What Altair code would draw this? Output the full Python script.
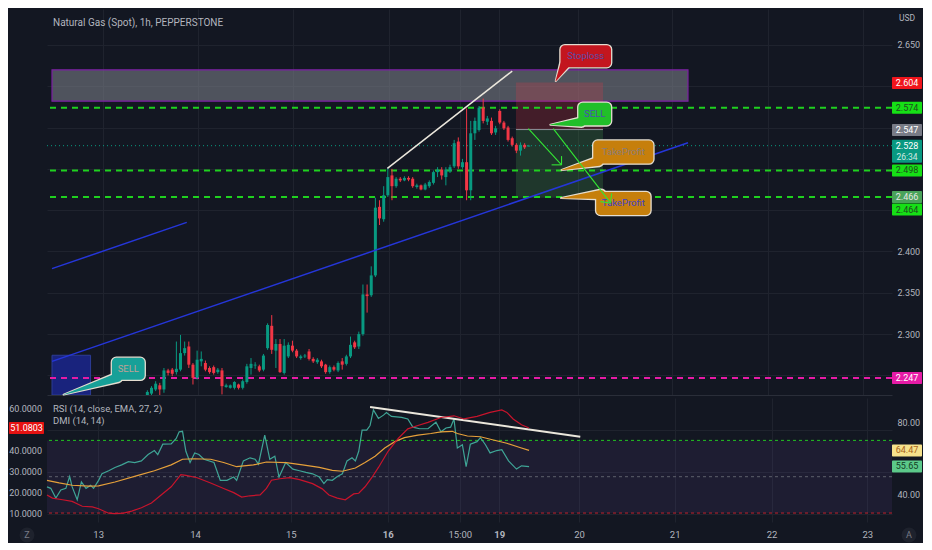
import json
import altair as alt
import pandas as pd

# ---------------- layout ----------------
W, HT, HB = 845, 386, 124
BG = "#131722"
GRID = "#1f232e"
TXT = "#b2b5be"
UP = "#089981"
DOWN = "#f23645"
FONT = "Roboto"

# ---------------- texts ----------------
title_text = "Natural Gas (Spot), 1h, PEPPERSTONE"
currency = "USD"
rsi_title = "RSI (14, close, EMA, 27, 2)"
dmi_title = "DMI (14, 14)"

# ---------------- axes ----------------
x_domain = [0, 201.4]
price_domain = [2.2263, 2.6934]
rsi_domain = [25.07, 93.33]
dmi_domain = [6.31, 65.38]
tick_x = [12.2, 35.3, 58.1, 81.2, 98.4, 107.8, 126.8, 149.6, 172.7, 195.5]
tick_lbl = ["13", "14", "15", "16", "15:00", "19", "20", "21", "22", "23"]
bold_ticks = [81.2, 107.8]
price_ticks = [2.25, 2.30, 2.35, 2.40, 2.45, 2.50, 2.55, 2.60, 2.65]
price_hidden = [2.25, 2.45, 2.50, 2.55, 2.60]      # covered by price badges
rsi_ticks = [40, 60, 80]
rsi_hidden = [60]                                   # covered by RSI badges
dmi_ticks = [10, 20, 30, 40, 50, 60]
dmi_labels = [10, 20, 30, 40, 60]                   # 50 is covered by the DMI badge

# ---------------- candles (1h bars) ----------------
bar_idx = list(range(23, 116))
opens = [2.226, 2.228, 2.233, 2.238, 2.233, 2.256, 2.257, 2.254, 2.257, 2.277,
         2.285, 2.263, 2.247, 2.267, 2.265, 2.259, 2.260, 2.254, 2.256, 2.236,
         2.235, 2.235, 2.239, 2.235, 2.242, 2.259, 2.262, 2.261, 2.257, 2.283,
         2.310, 2.280, 2.288, 2.253, 2.273, 2.286, 2.280, 2.271, 2.273, 2.279,
         2.270, 2.266, 2.267, 2.263, 2.254, 2.260, 2.256, 2.267, 2.264, 2.273,
         2.290, 2.285, 2.300, 2.348, 2.347, 2.371, 2.454, 2.439, 2.468, 2.492,
         2.479, 2.488, 2.486, 2.489, 2.488, 2.478, 2.480, 2.475, 2.479, 2.483,
         2.496, 2.499, 2.490, 2.497, 2.503, 2.533, 2.502, 2.508, 2.474, 2.543,
         2.547, 2.574, 2.557, 2.558, 2.544, 2.570, 2.556, 2.550, 2.537, 2.529,
         2.522, 2.529, 2.527]
highs = [2.232, 2.237, 2.243, 2.241, 2.259, 2.258, 2.259, 2.291, 2.299, 2.291,
         2.291, 2.265, 2.280, 2.279, 2.268, 2.261, 2.262, 2.259, 2.259, 2.240,
         2.239, 2.243, 2.240, 2.245, 2.264, 2.271, 2.266, 2.263, 2.276, 2.313,
         2.323, 2.294, 2.294, 2.294, 2.290, 2.292, 2.282, 2.275, 2.276, 2.282,
         2.272, 2.271, 2.269, 2.264, 2.262, 2.262, 2.267, 2.271, 2.275, 2.297,
         2.292, 2.303, 2.360, 2.360, 2.382, 2.465, 2.462, 2.479, 2.501, 2.500,
         2.490, 2.490, 2.491, 2.491, 2.490, 2.482, 2.481, 2.483, 2.486, 2.498,
         2.502, 2.502, 2.502, 2.505, 2.535, 2.538, 2.512, 2.573, 2.558, 2.562,
         2.576, 2.585, 2.564, 2.562, 2.552, 2.572, 2.558, 2.552, 2.539, 2.531,
         2.532, 2.531, 2.529]
lows = [2.222, 2.226, 2.231, 2.226, 2.229, 2.250, 2.249, 2.251, 2.255, 2.274,
        2.259, 2.239, 2.245, 2.261, 2.255, 2.252, 2.251, 2.252, 2.227, 2.235,
        2.234, 2.233, 2.233, 2.233, 2.240, 2.251, 2.258, 2.254, 2.255, 2.281,
        2.276, 2.259, 2.253, 2.251, 2.271, 2.278, 2.271, 2.269, 2.271, 2.268,
        2.265, 2.264, 2.259, 2.252, 2.252, 2.255, 2.254, 2.257, 2.262, 2.271,
        2.282, 2.282, 2.298, 2.326, 2.345, 2.369, 2.432, 2.436, 2.466, 2.462,
        2.477, 2.484, 2.485, 2.485, 2.477, 2.476, 2.474, 2.474, 2.477, 2.481,
        2.490, 2.487, 2.480, 2.495, 2.501, 2.500, 2.500, 2.462, 2.462, 2.535,
        2.545, 2.555, 2.553, 2.541, 2.541, 2.554, 2.547, 2.533, 2.527, 2.519,
        2.516, 2.524, 2.527]
closes = [2.230, 2.235, 2.240, 2.233, 2.256, 2.253, 2.252, 2.258, 2.277, 2.283,
          2.263, 2.247, 2.269, 2.270, 2.257, 2.254, 2.253, 2.257, 2.237, 2.238,
          2.238, 2.242, 2.235, 2.243, 2.261, 2.264, 2.263, 2.256, 2.274, 2.311,
          2.281, 2.288, 2.254, 2.286, 2.287, 2.280, 2.273, 2.273, 2.274, 2.270,
          2.267, 2.269, 2.261, 2.254, 2.260, 2.257, 2.265, 2.263, 2.273, 2.287,
          2.284, 2.300, 2.348, 2.346, 2.371, 2.453, 2.440, 2.468, 2.490, 2.479,
          2.488, 2.486, 2.489, 2.487, 2.479, 2.480, 2.475, 2.481, 2.484, 2.496,
          2.499, 2.492, 2.499, 2.502, 2.531, 2.503, 2.508, 2.474, 2.543, 2.558,
          2.574, 2.558, 2.561, 2.543, 2.549, 2.556, 2.549, 2.535, 2.529, 2.522,
          2.529, 2.526, 2.528]

# ---------------- indicators ----------------
rsi_x = [0.0, 0.9, 2.1, 3.3, 4.5, 5.4, 6.0, 7.2, 8.2, 9.3,
         10.4, 11.1, 12.3, 13.1, 14.7, 16.2, 17.8, 19.4, 20.9, 22.5,
         24.1, 25.6, 26.4, 27.6, 29.6, 30.8, 31.5, 32.3, 33.1, 34.1,
         35.2, 36.2, 37.4, 39.8, 41.3, 42.9, 44.5, 45.2, 46.8, 48.4,
         49.6, 50.4, 51.9, 53.1, 54.3, 55.3, 56.9, 58.6, 60.2, 61.7,
         63.3, 64.9, 66.0, 66.8, 68.0, 69.2, 70.4, 71.5, 72.7, 73.5,
         74.3, 75.1, 76.2, 77.0, 77.8, 79.0, 80.2, 80.9, 82.1, 84.5,
         86.0, 87.2, 88.8, 90.8, 92.7, 93.9, 95.1, 96.2, 97.0, 97.8,
         99.0, 99.9, 100.9, 102.5, 103.3, 104.5, 105.6, 107.2, 108.4, 110.0,
         111.9, 113.1, 114.9]
rsi_v = [44.4, 43.6, 38.2, 42.7, 43.6, 50.1, 44.4, 37.3, 47.1, 43.6,
         45.3, 43.6, 48.0, 51.6, 53.3, 55.1, 56.5, 58.3, 57.8, 58.7,
         62.2, 64.4, 62.2, 67.9, 68.1, 71.1, 74.7, 75.0, 64.0, 57.8,
         63.1, 62.2, 59.6, 57.8, 48.0, 48.0, 49.8, 48.0, 58.7, 60.4,
         59.6, 56.9, 72.9, 59.6, 61.3, 49.8, 57.8, 54.2, 53.3, 52.4,
         51.6, 49.8, 46.2, 48.4, 48.0, 50.1, 51.6, 58.7, 60.4, 58.7,
         64.0, 75.6, 75.6, 78.2, 86.8, 82.1, 83.9, 85.3, 83.2, 82.7,
         81.8, 77.3, 76.4, 76.4, 80.0, 74.7, 76.8, 77.3, 81.8, 65.8,
         67.6, 55.5, 67.9, 69.3, 71.5, 67.6, 63.1, 64.4, 64.9, 58.7,
         54.2, 56.0, 55.6]
ma_x = [0.0, 2.9, 6.0, 10.0, 12.3, 16.2, 21.7, 25.6, 29.6, 32.3,
        35.1, 39.0, 42.1, 45.2, 49.2, 52.3, 57.0, 60.9, 64.9, 68.0,
        70.4, 73.5, 75.8, 78.2, 80.5, 82.9, 85.2, 88.4, 91.5, 93.9,
        96.6, 97.8, 100.2, 103.3, 106.4, 109.6, 112.7, 114.9]
ma_v = [48.0, 46.6, 45.3, 44.8, 45.0, 47.1, 50.7, 53.3, 56.5, 59.6,
        59.9, 59.6, 57.8, 55.5, 56.5, 58.1, 57.8, 56.5, 55.1, 53.5,
        53.0, 54.8, 57.8, 61.3, 65.8, 69.3, 71.5, 72.9, 73.8, 74.7,
        75.0, 73.8, 72.4, 72.0, 70.2, 68.4, 66.1, 64.5]
dmi_x = [0.0, 1.3, 3.7, 6.0, 8.4, 10.8, 12.3, 14.7, 16.2, 18.2,
         20.2, 22.5, 24.9, 27.2, 29.6, 31.9, 33.1, 35.8, 39.0, 42.1,
         44.5, 46.4, 48.4, 50.8, 52.3, 53.5, 55.5, 57.8, 60.2, 63.3,
         65.6, 67.2, 69.2, 71.1, 73.1, 74.3, 75.8, 77.4, 79.0, 81.3,
         83.7, 86.0, 88.4, 90.8, 93.9, 97.0, 99.4, 102.5, 105.6, 108.4,
         109.6, 111.1, 113.1, 114.9]
dmi_v = [19.2, 17.7, 16.9, 16.1, 13.8, 13.5, 12.6, 10.5, 10.3, 10.5,
         11.5, 13.1, 15.4, 19.2, 23.1, 28.9, 28.5, 27.4, 24.9, 22.3,
         20.3, 18.2, 18.8, 19.2, 22.3, 26.2, 26.9, 27.4, 26.5, 24.6,
         22.1, 19.2, 17.7, 16.9, 19.7, 20.0, 23.1, 27.4, 32.3, 40.0,
         46.1, 50.7, 52.3, 53.8, 56.1, 56.9, 55.4, 56.6, 58.5, 59.7,
         58.5, 55.4, 52.6, 51.1]
rsi_band = [70, 50, 30]
rsi_band_col = ["#22c322", "#5d606b", "#c2202c"]

# ---------------- drawings ----------------
level_p = [2.574, 2.498, 2.466, 2.247]
level_c = ["#1fd11f", "#1fd11f", "#1fd11f", "#e61ba6"]
last_price = 2.528
zone_x = [0, 153.4]
zone_p = [2.5819, 2.6198]
blue_box_x = [0, 9.3]
blue_box_p = [2.2263, 2.2744]
pos_x = [111.9, 132.9]
pos_stop, pos_entry, pos_target = 2.6046, 2.5475, 2.4650

seg_id = ["white", "white", "blueA", "blueA", "blueB", "blueB",
          "ar1", "ar1", "ar1a", "ar1a", "ar1b", "ar1b",
          "ar2", "ar2", "ar2a", "ar2a", "ar2b", "ar2b"]
seg_x = [80.9, 111.0, 0.0, 153.4, 0.0, 32.5,
         114.9, 122.9, 122.9, 122.9, 120.5, 122.9,
         120.9, 134.7, 135.0, 134.7, 132.3, 134.7]
seg_p = [2.5005, 2.6183, 2.2670, 2.5315, 2.3792, 2.4352,
         2.5487, 2.5048, 2.5154, 2.5048, 2.5048, 2.5048,
         2.5487, 2.4587, 2.4703, 2.4587, 2.4603, 2.4587]
seg_c = ["#ebe7dc"] * 2 + ["#2536d9"] * 4 + ["#33e633"] * 12
seg_w = [1.5] * 2 + [1.5] * 4 + [1.1] * 12

co_text = ["Stoploss", "SELL", "TakeProfit", "TakeProfit", "SELL"]
co_x0 = [122.5, 126.8, 130.4, 131.1, 14.3]
co_x1 = [135.0, 135.0, 145.2, 144.5, 22.5]
co_lo = [2.6222, 2.5518, 2.5056, 2.4434, 2.2439]
co_hi = [2.6503, 2.5808, 2.5350, 2.4728, 2.2721]
co_base_x = [123.6, 127.6, 131.8, 132.4, 15.8]
co_base_p = [2.6255, 2.5565, 2.5090, 2.4690, 2.2475]
co_tip_x = [121.5, 120.2, 122.9, 122.8, 2.8]
co_tip_p = [2.6062, 2.5534, 2.4986, 2.4646, 2.2268]
co_fill = ["#c3161f", "#21bf2a", "#c67f0c", "#c67f0c", "#17a098"]
co_tc = ["#5b4ca8", "#4a4fb2", "#8a7d78", "#3f3fc4", "#bfa096"]

badge_p = [2.604, 2.574, 2.547, 2.498, 2.466, 2.247]
badge_bg = ["#f0151c", "#16e016", "#787b86", "#16e016", "#4aa35a", "#e61ba6"]
badge_fg = ["#ffffff", "#1e4d1e", "#ffffff", "#1e4d1e", "#e6e6e6", "#ffffff"]
last_countdown = "26:34"
target_badge = 2.464
rsi_badge_v = [64.47, 55.65]
rsi_badge_bg = ["#f6e28c", "#5cc98a"]
rsi_badge_fg = ["#a8641a", "#123d24"]
dmi_badge_v = 51.0803
rsi_trend_x = [77.0, 127.1]
rsi_trend_v = [88.4, 72.0]

# ---------------- scales / axes ----------------
xs = alt.Scale(domain=x_domain, nice=False, zero=False)
ps = alt.Scale(domain=price_domain, nice=False, zero=False)
rs = alt.Scale(domain=rsi_domain, nice=False, zero=False)
ds = alt.Scale(domain=dmi_domain, nice=False, zero=False)


def blank_expr(hidden, fmt):
    return "indexof(%s, datum.value) >= 0 ? '' : format(datum.value, '%s')" % (json.dumps(hidden), fmt)


x_axis_top = alt.Axis(values=tick_x, labels=False, ticks=False, grid=True, gridColor=GRID,
                      domain=True, domainColor="#2a2e39", title=None)
y_axis_top = alt.Axis(orient="right", values=price_ticks, labelExpr=blank_expr(price_hidden, ".3f"),
                      grid=True, gridColor=GRID, ticks=False, domain=False, labelColor=TXT,
                      labelFontSize=9, labelPadding=5, labelOverlap=False, title=None)
label_expr = "%s[indexof(%s, datum.value)]" % (json.dumps(tick_lbl), json.dumps(tick_x))
weight_expr = "indexof(%s, datum.value) >= 0 ? 'bold' : 'normal'" % json.dumps(bold_ticks)
x_axis_bot = alt.Axis(values=tick_x, labelExpr=label_expr, grid=True, gridColor=GRID, ticks=False,
                      domain=False, labelColor=TXT, labelFontSize=9.5, labelPadding=7,
                      labelFontWeight=alt.ExprRef(expr=weight_expr),
                      labelOverlap=False, labelFlush=False, title=None)
r_axis = alt.Axis(orient="right", values=rsi_ticks, labelExpr=blank_expr(rsi_hidden, ".2f"),
                  grid=False, ticks=False, domain=False, labelColor=TXT, labelFontSize=9,
                  labelPadding=5, labelOverlap=False, title=None)
d_axis = alt.Axis(orient="left", values=dmi_ticks, labels=False, grid=True, gridColor=GRID, ticks=False,
                  domain=False, title=None)


def one(**kw):
    return pd.DataFrame({k: [v] for k, v in kw.items()})


def label(text, x, y, size=9.5, color=TXT, align="left"):
    return alt.Chart(one(t=text)).mark_text(align=align, baseline="middle", fontSize=size, color=color).encode(
        x=alt.value(x), y=alt.value(y), text="t:N")


def badges(df, x0, x1, yscale, top=-6, bot=6, text_dy=0):
    rect = alt.Chart(df).mark_rect(yOffset=top, y2Offset=bot, cornerRadius=1).encode(
        x=alt.value(x0), x2=alt.value(x1),
        y=alt.Y("p:Q", scale=yscale), y2="p",
        color=alt.Color("bg:N", scale=None))
    txt = alt.Chart(df).mark_text(fontSize=9, dy=text_dy, baseline="middle").encode(
        x=alt.value((x0 + x1) / 2), y=alt.Y("p:Q", scale=yscale),
        text="t:N", color=alt.Color("fg:N", scale=None))
    return [rect, txt]


# ---------------- top panel ----------------
zone = alt.Chart(one(x0=zone_x[0], x1=zone_x[1], lo=zone_p[0], hi=zone_p[1])).mark_rect(
    fill="#787b86", fillOpacity=0.6, stroke="#7b1fa2", strokeWidth=1.2).encode(
    x=alt.X("x0:Q", scale=xs, axis=x_axis_top), x2="x1",
    y=alt.Y("lo:Q", scale=ps, axis=y_axis_top), y2="hi")

bluebox = alt.Chart(one(x0=blue_box_x[0], x1=blue_box_x[1], lo=blue_box_p[0], hi=blue_box_p[1])).mark_rect(
    fill="#1b2587", fillOpacity=0.9, stroke="#2c3c94", strokeWidth=1, clip=True).encode(
    x=alt.X("x0:Q", scale=xs), x2="x1", y=alt.Y("lo:Q", scale=ps), y2="hi")

pos_df = pd.DataFrame({"x0": [pos_x[0]] * 2, "x1": [pos_x[1]] * 2,
                       "lo": [pos_entry, pos_target], "hi": [pos_stop, pos_entry],
                       "c": ["#f23645", "#4caf50"]})
pos = alt.Chart(pos_df).mark_rect(opacity=0.22).encode(
    x=alt.X("x0:Q", scale=xs), x2="x1", y=alt.Y("lo:Q", scale=ps), y2="hi",
    color=alt.Color("c:N", scale=None))
entry_line = alt.Chart(one(x0=pos_x[0], x1=pos_x[1], p=pos_entry)).mark_rule(
    color="#8d909a", strokeWidth=1).encode(
    x=alt.X("x0:Q", scale=xs), x2="x1", y=alt.Y("p:Q", scale=ps))

levels = alt.Chart(pd.DataFrame({"p": level_p, "c": level_c})).mark_rule(
    strokeDash=[6, 5], strokeWidth=2).encode(
    y=alt.Y("p:Q", scale=ps), color=alt.Color("c:N", scale=None))
last_line = alt.Chart(one(p=last_price)).mark_rule(strokeDash=[1, 3], color=UP, strokeWidth=1).encode(
    y=alt.Y("p:Q", scale=ps))

cdf = pd.DataFrame({"i": bar_idx, "o": opens, "h": highs, "l": lows, "c": closes})
ccol = alt.condition("datum.c >= datum.o", alt.value(UP), alt.value(DOWN))
wicks = alt.Chart(cdf).mark_rule(strokeWidth=1, clip=True).encode(
    x=alt.X("i:Q", scale=xs), y=alt.Y("l:Q", scale=ps), y2="h", color=ccol)
bodies = alt.Chart(cdf).mark_bar(size=3, clip=True).encode(
    x=alt.X("i:Q", scale=xs), y=alt.Y("o:Q", scale=ps), y2="c", color=ccol)

seg_df = pd.DataFrame({"id": seg_id, "x": seg_x, "p": seg_p, "c": seg_c, "w": seg_w})
trend = seg_df[~seg_df.id.str.startswith("ar")]
arrows = seg_df[seg_df.id.str.startswith("ar")]


def seg_chart(df):
    return alt.Chart(df).mark_line(clip=True).encode(
        x=alt.X("x:Q", scale=xs), y=alt.Y("p:Q", scale=ps),
        detail="id:N", color=alt.Color("c:N", scale=None),
        strokeWidth=alt.StrokeWidth("w:Q", scale=None))


co_df = pd.DataFrame({"t": co_text, "x0": co_x0, "x1": co_x1, "lo": co_lo, "hi": co_hi,
                      "fill": co_fill, "tc": co_tc})
ptr_rows = []
for k in range(len(co_text)):
    ptr_rows.append({"k": k, "x": co_base_x[k], "p": co_base_p[k], "w": 9.0, "wb": 12.0, "fill": co_fill[k]})
    ptr_rows.append({"k": k, "x": co_tip_x[k], "p": co_tip_p[k], "w": 0.4, "wb": 2.0, "fill": co_fill[k]})
ptr_df = pd.DataFrame(ptr_rows)

ptr_border = alt.Chart(ptr_df).mark_trail(color="#e4ddd0").encode(
    x=alt.X("x:Q", scale=xs), y=alt.Y("p:Q", scale=ps),
    size=alt.Size("wb:Q", scale=None), detail="k:N")
boxes = alt.Chart(co_df).mark_rect(cornerRadius=5, stroke="#e4ddd0", strokeWidth=1.3).encode(
    x=alt.X("x0:Q", scale=xs), x2="x1", y=alt.Y("lo:Q", scale=ps), y2="hi",
    fill=alt.Fill("fill:N", scale=None))
ptr_fill = alt.Chart(ptr_df).mark_trail().encode(
    x=alt.X("x:Q", scale=xs), y=alt.Y("p:Q", scale=ps),
    size=alt.Size("w:Q", scale=None), detail="k:N", color=alt.Color("fill:N", scale=None))
box_text = alt.Chart(co_df).transform_calculate(
    xm="(datum.x0 + datum.x1) / 2", pm="(datum.lo + datum.hi) / 2").mark_text(
    fontSize=9.5, baseline="middle").encode(
    x=alt.X("xm:Q", scale=xs), y=alt.Y("pm:Q", scale=ps),
    text="t:N", fill=alt.Fill("tc:N", scale=None))

b_df = pd.DataFrame({"p": badge_p, "t": ["%.3f" % v for v in badge_p], "bg": badge_bg, "fg": badge_fg})
last_df = one(p=last_price, t="%.3f" % last_price, bg=UP, fg="#ffffff")
cd_df = one(p=last_price, t=last_countdown, bg=UP, fg="#cfe9e3")
tp_df = one(p=target_badge, t="%.3f" % target_badge, bg="#16e016", fg="#1e4d1e")

top_layers = [zone, bluebox, pos, entry_line, levels, last_line, wicks, bodies,
              seg_chart(trend), ptr_border, boxes, ptr_fill, box_text, seg_chart(arrows),
              label(title_text, 6, 14, size=10),
              label(currency, W + 15, 9, size=8.5, align="center")]
top_layers += badges(b_df, W, W + 30, ps)
top_layers += badges(last_df, W, W + 30, ps, top=-6, bot=17)
top_layers += [alt.Chart(cd_df).mark_text(fontSize=8.5, dy=11, baseline="middle").encode(
    x=alt.value(W + 15), y=alt.Y("p:Q", scale=ps), text="t:N",
    color=alt.Color("fg:N", scale=None))]
top_layers += badges(tp_df, W, W + 30, ps, top=5, bot=17, text_dy=11)

top = alt.layer(*top_layers).properties(width=W, height=HT)

# ---------------- bottom panel ----------------
band = alt.Chart(one(top=rsi_band[0], bot=rsi_band[2])).mark_rect(color="#7e57c2", opacity=0.1).encode(
    x=alt.value(0), x2=alt.value(W), y=alt.Y("top:Q", scale=rs, axis=r_axis), y2="bot")
band_lines = alt.Chart(pd.DataFrame({"v": rsi_band, "c": rsi_band_col})).mark_rule(
    strokeDash=[3, 3], strokeWidth=1).encode(
    y=alt.Y("v:Q", scale=rs), color=alt.Color("c:N", scale=None))
rsi_line = alt.Chart(pd.DataFrame({"x": rsi_x, "v": rsi_v})).mark_line(
    color="#3fa596", strokeWidth=1.2).encode(
    x=alt.X("x:Q", scale=xs, axis=x_axis_bot), y=alt.Y("v:Q", scale=rs))
ma_line = alt.Chart(pd.DataFrame({"x": ma_x, "v": ma_v})).mark_line(
    color="#e6a03a", strokeWidth=1.2).encode(
    x=alt.X("x:Q", scale=xs), y=alt.Y("v:Q", scale=rs))
rsi_trend = alt.Chart(pd.DataFrame({"x": rsi_trend_x, "v": rsi_trend_v})).mark_line(
    color="#ebe7dc", strokeWidth=2).encode(
    x=alt.X("x:Q", scale=xs), y=alt.Y("v:Q", scale=rs))
rb_df = pd.DataFrame({"p": rsi_badge_v, "t": ["%.2f" % v for v in rsi_badge_v],
                      "bg": rsi_badge_bg, "fg": rsi_badge_fg})
rsi_group = alt.layer(band, band_lines, rsi_line, ma_line, rsi_trend, *badges(rb_df, W, W + 30, rs))

dmi_line = alt.Chart(pd.DataFrame({"x": dmi_x, "v": dmi_v})).mark_line(
    color="#c8142c", strokeWidth=1.2).encode(
    x=alt.X("x:Q", scale=xs), y=alt.Y("v:Q", scale=ds, axis=d_axis))
dmi_tick_lbl = alt.Chart(pd.DataFrame({"v": dmi_labels, "t": ["%.4f" % v for v in dmi_labels]})).mark_text(
    align="right", baseline="middle", fontSize=9, color=TXT).encode(
    x=alt.value(-5), y=alt.Y("v:Q", scale=ds), text="t:N")
db_df = one(p=dmi_badge_v, t="%.4f" % dmi_badge_v, bg="#e51212", fg="#ffffff")
btn_df = pd.DataFrame({"x": [-20, W + 17], "t": ["Z", "A"]})
buttons = alt.Chart(btn_df).mark_circle(size=220, color="#1e222d", opacity=1).encode(
    x=alt.X("x:Q", scale=None), y=alt.value(HB + 13))
buttons_t = alt.Chart(btn_df).mark_text(fontSize=9, color="#787b86", baseline="middle").encode(
    x=alt.X("x:Q", scale=None), y=alt.value(HB + 13), text="t:N")
dmi_group = alt.layer(dmi_line, dmi_tick_lbl, *badges(db_df, -38, -3, ds),
                      label(rsi_title, 6, 11), label(dmi_title, 6, 23))

bottom = alt.layer(rsi_group, dmi_group, buttons, buttons_t).resolve_scale(y="independent").properties(
    width=W, height=HB)

chart = alt.vconcat(top, bottom, spacing=0, padding=0).configure(
    background=BG, font=FONT).configure_view(stroke="transparent")

chart.save("out.html", embed_options={"renderer": "svg", "actions": False})
